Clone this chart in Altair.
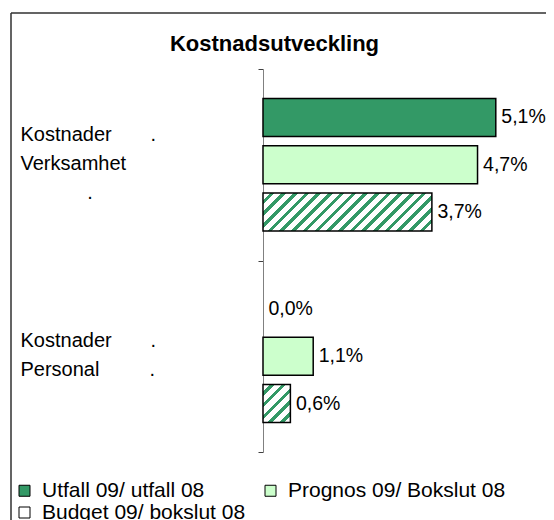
import altair as alt
import pandas as pd
import json

# ---------------- data ----------------
categories = ["Kostnader Verksamhet", "Kostnader Personal"]
series = ["Utfall 09/ utfall 08", "Prognos 09/ Bokslut 08", "Budget 09/ bokslut 08"]
utfall = [5.1, 0.0]
prognos = [4.7, 1.1]
budget = [3.7, 0.6]

NB = "\u00a0"
ZW = "\u200b"
label_lines = {
    "Kostnader Verksamhet": ["Kostnader" + NB * 7 + ".", "Verksamhet", ZW + NB * 12 + "."],
    "Kostnader Personal": ["Kostnader" + NB * 7 + ".", "Personal" + NB * 9 + "."],
}
colors = ["#339966", "#CCFFCC", "#FFFFFF"]

rows = []
for i, c in enumerate(categories):
    for s, vals in zip(series, [utfall, prognos, budget]):
        v = vals[i]
        rows.append({"category": c, "series": s, "value": v,
                     "label": f"{v:.1f}".replace(".", ",") + "%"})
df = pd.DataFrame(rows)

# ---------------- layout ----------------
W, H = 283, 383
XMAX = 6.2
PXU = W / XMAX
PI, PO = 0.197, 0.623
step = (H / len(categories)) / (3 - PI + 2 * PO)
BW = step * (1 - PI)
FONT = "Liberation Sans"

label_expr = " : ".join(
    [f"datum.label == {json.dumps(c)} ? {json.dumps(l, ensure_ascii=False)}" for c, l in label_lines.items()]
) + " : datum.label"

y_axis = alt.Axis(
    title=None, domainColor="#808080", domainWidth=1, tickColor="#404040",
    tickSize=5, tickWidth=1, tickBand="extent", labelAlign="left", labelPadding=238,
    labelFont=FONT, labelFontSize=20, labelColor="black", labelLineHeight=29,
    labelBaseline="middle", labelLimit=0, labelOverlap=False, labelExpr=label_expr,
    labelOffset={"condition": {"test": f"datum.label == {json.dumps(categories[0])}", "value": -30},
                 "value": -16},
)
y_enc = alt.Y("category:N", scale=alt.Scale(domain=categories, paddingInner=0, paddingOuter=0), axis=y_axis)
yo_enc = alt.YOffset("series:N", scale=alt.Scale(domain=series, paddingInner=PI, paddingOuter=PO))
x_enc = alt.X("value:Q", scale=alt.Scale(domain=[0, XMAX], nice=False, zero=True), axis=None)

base = alt.Chart(df).encode(x=x_enc, y=y_enc, yOffset=yo_enc)

bars = base.transform_filter(
    f"datum.series != {json.dumps(series[2])} && datum.value > 0"
).mark_bar(stroke="black", strokeWidth=1.5).encode(
    color=alt.Color(
        "series:N", scale=alt.Scale(domain=series, range=colors),
        legend=alt.Legend(
            title=None, orient="none", legendX=-249, legendY=411, columns=2,
            direction="horizontal",
            columnPadding=14, rowPadding=0, symbolType="square", symbolSize=121,
            symbolStrokeColor="black", symbolStrokeWidth=1, symbolOpacity=1,
            labelFont=FONT, labelFontSize=21, labelColor="black", labelOffset=7,
            labelLimit=0, padding=0,
        ),
    )
)


def hatch(w, h, period=11.7, green=4.6, s=1.0):
    L = s * w + h
    m = L / (s * s * w * w + h * h)
    stops = []
    k = 0
    while k * period < L:
        a = k * period / L
        b = min((k * period + period - green) / L, 1)
        c = min((k + 1) * period / L, 1)
        stops += [
            {"offset": a, "color": "#FFFFFF"},
            {"offset": b, "color": "#FFFFFF"},
            {"offset": b, "color": "#339966"},
            {"offset": c, "color": "#339966"},
        ]
        k += 1
    return alt.LinearGradient(gradient="linear", x1=0, y1=0, x2=s * w * m, y2=h * m,
                              stops=[alt.GradientStop(**st) for st in stops])


hatch_layers = []
for c, v in zip(categories, budget):
    if v <= 0:
        continue
    hatch_layers.append(
        base.transform_filter(
            f"datum.series == {json.dumps(series[2])} && datum.category == {json.dumps(c)}"
        ).mark_bar(fill=hatch(v * PXU, BW), stroke="black", strokeWidth=1.5)
    )

texts = base.mark_text(align="left", baseline="middle", dx=5.5, font=FONT,
                       fontSize=19.5, color="black").encode(text="label:N")

frame_df = pd.DataFrame({"f": [0]})
frame_left = alt.Chart(frame_df).mark_rule(color="#303030", strokeWidth=1.5).encode(
    x=alt.value(-252), y=alt.value(-56), y2=alt.value(480))
frame_top = alt.Chart(frame_df).mark_rule(color="#303030", strokeWidth=1.5).encode(
    x=alt.value(-252), x2=alt.value(300), y=alt.value(-56))

chart = alt.layer(bars, *hatch_layers, texts, frame_left, frame_top).properties(
    width=W, height=H,
    title=alt.TitleParams("Kostnadsutveckling", font=FONT, fontSize=22, fontWeight="bold",
                          color="black", anchor="middle", dx=-130, offset=-61,
                          baseline="alphabetic"),
    autosize=alt.AutoSizeParams(type="none"),
    padding={"left": 255, "top": 61, "right": 0, "bottom": 68},
    background="white",
).configure_view(stroke=None)

chart.save("out.html", embed_options={"renderer": "svg", "actions": False})
